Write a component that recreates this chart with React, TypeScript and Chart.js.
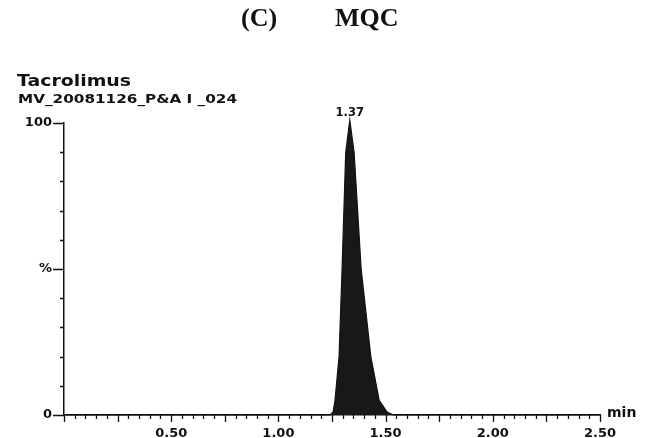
import React, { useEffect, useRef } from "react";
import { Chart, registerables } from "chart.js";

Chart.register(...registerables);

// ---- data ----
const retentionTimes = [0, 1.2, 1.241, 1.255, 1.264, 1.283, 1.297, 1.314, 1.333, 1.353, 1.386, 1.431, 1.47, 1.507, 1.536, 2.5];
const intensities = [0, 0, 0, 1, 5, 20, 50, 90, 101, 90, 50, 20, 5, 1, 0, 0];

const xLabelValues = [0.5, 1.0, 1.5, 2.0, 2.5];
const xLabelTexts = ["0.50", "1.00", "1.50", "2.00", "2.50"];
const yLabelValues = [0, 50, 100];
const yLabelTexts = ["0", "%", "100"];

const peakTime = 1.333;
const peakValue = 101;
const peakLabel = "1.37";

const figureTitleLeft = "(C)";
const figureTitleRight = "MQC";
const compoundName = "Tacrolimus";
const runName = "MV_20081126_P&A I _024";
const xUnit = "min";

const INK = "#111111";
const TICK_FONT = "'DejaVu Sans', sans-serif";

const tickPlugin = {
  id: "chromTicks",
  afterDraw(chart: any) {
    const ctx = chart.ctx;
    const xs = chart.scales.x;
    const ys = chart.scales.y;
    ctx.save();
    ctx.strokeStyle = INK;
    ctx.lineWidth = 1.3;
    ctx.beginPath();
    xs.ticks.forEach((t: any, i: number) => {
      const px = Math.round(xs.getPixelForValue(t.value)) + 0.5;
      const len = i % 5 === 0 ? 7 : 4;
      ctx.moveTo(px, xs.top);
      ctx.lineTo(px, xs.top + len);
    });
    ys.ticks.forEach((t: any, i: number) => {
      const py = Math.round(ys.getPixelForValue(t.value)) + 0.5;
      const len = i % 5 === 0 ? 11 : 4;
      ctx.moveTo(ys.right - len, py);
      ctx.lineTo(ys.right, py);
    });
    ctx.stroke();

    // peak apex label
    ctx.fillStyle = INK;
    ctx.font = "bold 11.5px " + TICK_FONT;
    ctx.textAlign = "center";
    ctx.textBaseline = "bottom";
    ctx.fillText(peakLabel, xs.getPixelForValue(peakTime), ys.getPixelForValue(peakValue) - 1);

    // unit label at the end of the time axis
    ctx.textAlign = "left";
    ctx.textBaseline = "alphabetic";
    ctx.font = "bold 14px " + TICK_FONT;
    ctx.fillText(xUnit, xs.right + 7, xs.top + 2);
    ctx.restore();
  },
};

export default function App() {
  const canvasRef = useRef<HTMLCanvasElement | null>(null);

  useEffect(() => {
    document.body.style.margin = "0";
    const canvas = canvasRef.current;
    if (!canvas) return;
    const points = retentionTimes.map((t, i) => ({ x: t, y: intensities[i] }));
    const chart = new Chart(canvas, {
      type: "line",
      data: {
        datasets: [
          {
            data: points,
            borderColor: INK,
            backgroundColor: "#181818",
            borderWidth: 1.2,
            fill: "origin",
            pointRadius: 0,
            tension: 0,
            clip: false as any,
          },
        ],
      },
      plugins: [tickPlugin],
      options: {
        responsive: false,
        animation: false,
        events: [],
        layout: { padding: { left: 0, right: 50, top: 123, bottom: 0 } },
        plugins: {
          legend: { display: false },
          tooltip: { enabled: false },
          title: { display: false },
        },
        scales: {
          x: {
            type: "linear",
            min: 0,
            max: 2.5,
            afterBuildTicks: (scale: any) => {
              const ticks = [];
              for (let i = 0; i <= 50; i++) ticks.push({ value: Math.round(i * 5) / 100 });
              scale.ticks = ticks;
            },
            afterFit: (scale: any) => {
              scale.height = 23;
            },
            grid: {
              display: true,
              drawOnChartArea: false,
              drawTicks: true,
              tickLength: 7,
              color: "rgba(0,0,0,0)",
            },
            border: { display: true, color: INK, width: 1.5 },
            ticks: {
              autoSkip: false,
              maxRotation: 0,
              minRotation: 0,
              padding: 4,
              color: INK,
              font: { family: TICK_FONT, size: 13, weight: "bold" },
              callback: (value: any) => {
                const idx = xLabelValues.findIndex((v) => Math.abs(v - Number(value)) < 1e-6);
                return idx >= 0 ? xLabelTexts[idx] : "";
              },
            },
          },
          y: {
            type: "linear",
            min: 0,
            max: 100,
            afterBuildTicks: (scale: any) => {
              const ticks = [];
              for (let v = 0; v <= 100; v += 10) ticks.push({ value: v });
              scale.ticks = ticks;
            },
            afterFit: (scale: any) => {
              scale.width = 64;
            },
            grid: {
              display: true,
              drawOnChartArea: false,
              drawTicks: true,
              tickLength: 11,
              color: "rgba(0,0,0,0)",
            },
            border: { display: true, color: INK, width: 1.5 },
            ticks: {
              autoSkip: false,
              padding: 1,
              color: INK,
              font: { family: TICK_FONT, size: 13, weight: "bold" },
              callback: (value: any) => {
                const idx = yLabelValues.findIndex((v) => Math.abs(v - Number(value)) < 1e-6);
                return idx >= 0 ? yLabelTexts[idx] : "";
              },
            },
          },
        },
      } as any,
    });
    return () => chart.destroy();
  }, []);

  const serifTitle: React.CSSProperties = {
    position: "absolute",
    top: 5,
    fontFamily: "'Liberation Serif', serif",
    fontWeight: "bold",
    fontSize: 26,
    lineHeight: 1,
    color: INK,
    whiteSpace: "nowrap",
  };

  return (
    <div style={{ position: "relative", width: 650, height: 438, background: "#fff", overflow: "hidden" }}>
      <canvas ref={canvasRef} width={650} height={438} style={{ position: "absolute", left: 0, top: 0 }} />
      <div style={{ ...serifTitle, left: 241 }}>{figureTitleLeft}</div>
      <div style={{ ...serifTitle, left: 335 }}>{figureTitleRight}</div>
      <div
        style={{
          position: "absolute",
          left: 17,
          top: 73.5,
          fontFamily: TICK_FONT,
          fontWeight: "bold",
          fontSize: 15,
          lineHeight: 1,
          color: INK,
          whiteSpace: "nowrap",
          transform: "scaleX(1.26)",
          transformOrigin: "left top",
        }}
      >
        {compoundName}
      </div>
      <div
        style={{
          position: "absolute",
          left: 18,
          top: 93,
          fontFamily: TICK_FONT,
          fontWeight: "bold",
          fontSize: 12,
          lineHeight: 1,
          color: INK,
          whiteSpace: "nowrap",
          transform: "scaleX(1.27)",
          transformOrigin: "left top",
        }}
      >
        {runName}
      </div>
    </div>
  );
}
